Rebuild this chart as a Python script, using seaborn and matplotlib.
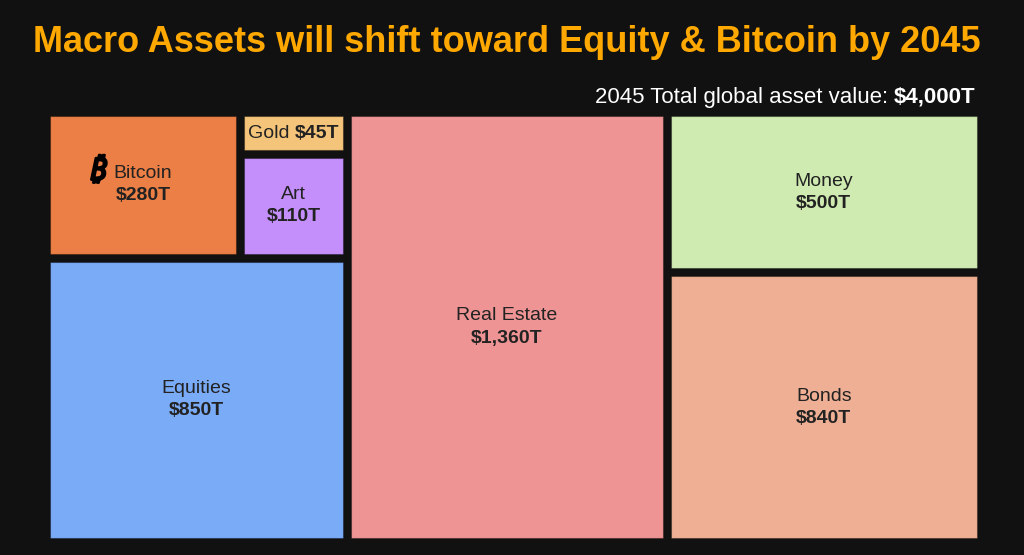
import matplotlib.pyplot as plt
import matplotlib.patches as mpatches
import matplotlib.patheffects as pe
import seaborn as sns

# --- DATA ---
names = ["Bitcoin", "Gold", "Art", "Equities", "Real Estate", "Money", "Bonds"]
values = [280, 45, 110, 850, 1360, 500, 840]
value_labels = ["$280T", "$45T", "$110T", "$850T", "$1,360T", "$500T", "$840T"]
colors = ["#EB7F45", "#F3C47A", "#C58FFB", "#7AABF7", "#EE9494", "#D0EBB1", "#EFAF94"]
total_label = "$4,000T"

# nesting of the treemap: "h" = side by side, "v" = stacked
layout = ("h", [("v", [("h", [0, ("v", [1, 2])]), 3]), 4, ("v", [5, 6])])

sns.set_theme(style="dark")
plt.rcParams["font.family"] = ["Liberation Sans", "DejaVu Sans"]
BG = "#111111"
TXT = "#222222"


def node_sum(node):
    if isinstance(node, int):
        return values[node]
    return sum(node_sum(k) for k in node[1])


def place(node, x, y, w, h, out):
    if isinstance(node, int):
        out[node] = (x, y, w, h)
        return
    kind, kids = node
    tot = node_sum(node)
    for k in kids:
        frac = node_sum(k) / tot
        if kind == "h":
            place(k, x, y, w * frac, h, out)
            x += w * frac
        else:
            place(k, x, y, w, h * frac, out)
            y += h * frac


fig = plt.figure(figsize=(10.24, 5.55), dpi=100, facecolor=BG)
ax = fig.add_axes([0, 0, 1, 1])
ax.set_facecolor(BG)
ax.set_xlim(0, 1024)
ax.set_ylim(555, 0)
ax.axis("off")
renderer = fig.canvas.get_renderer()


def width_of(t):
    return t.get_window_extent(renderer).width


def mixed_line(x, y, parts, ha="center", size=14, color=TXT, gap=5):
    texts = [ax.text(0, y, s, fontsize=size, fontweight=w, color=color,
                     ha="left", va="center") for s, w in parts]
    widths = [width_of(t) for t in texts]
    full = sum(widths) + gap * (len(texts) - 1)
    start = x - full / 2 if ha == "center" else x - full
    for t, wd in zip(texts, widths):
        t.set_x(start)
        start += wd + gap


cells = {}
gap = 8
place(layout, 46, 112, 935, 430, cells)

for i, (x, y, w, h) in cells.items():
    ax.add_patch(mpatches.Rectangle((x + gap / 2, y + gap / 2), w - gap, h - gap,
                                    facecolor=colors[i], edgecolor="#00000055", lw=0.8))
    cx, cy = x + w / 2, y + h / 2
    if h - gap < 50:
        mixed_line(cx, cy, [(names[i], "normal"), (value_labels[i], "bold")])
        continue
    t = ax.text(cx, cy - 11, names[i], fontsize=14, color=TXT, ha="center", va="center")
    ax.text(cx, cy + 11, value_labels[i], fontsize=14, fontweight="bold",
            color=TXT, ha="center", va="center")
    if names[i] == "Bitcoin":
        left = cx - width_of(t) / 2
        ax.text(left - 7, cy - 13, "\u20bf", fontsize=22, fontweight="bold", style="italic",
                color="black", ha="right", va="center",
                family=["Noto Sans", "DejaVu Sans"],
                path_effects=[pe.withStroke(linewidth=1.6, foreground="black")])

ax.text(507, 43, "Macro Assets will shift toward Equity & Bitcoin by 2045",
        fontsize=26, fontweight="bold", color="#FFA800", ha="center", va="center")
mixed_line(975, 97, [("2045 Total global asset value:", "normal"), (total_label, "bold")],
           ha="right", size=16, color="white")

fig.savefig("out.png", dpi=100, facecolor=BG)
